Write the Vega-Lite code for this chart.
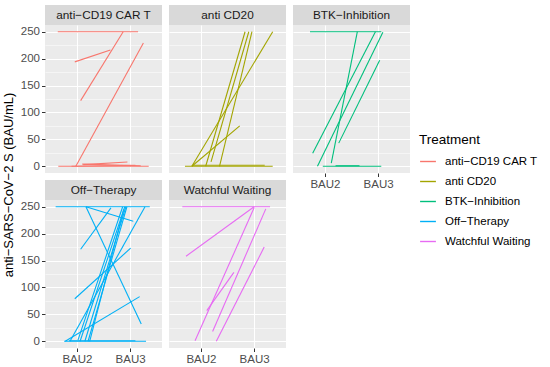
{
  "$schema": "https://vega.github.io/schema/vega-lite/v6.json",
  "padding": {"left": 3, "top": 5, "right": 5, "bottom": 5},
  "title": {"text": "anti−SARS−CoV−2 S (BAU/mL)", "orient": "left", "anchor": "middle", "fontSize": 13, "fontWeight": "normal", "color": "#000000", "font": "Liberation Sans", "offset": 4},
  "data": {"values": [
    {"Treatment": "anti−CD19 CAR T", "id": "c1", "x": 1.64, "y": 250}, {"Treatment": "anti−CD19 CAR T", "id": "c1", "x": 3.15, "y": 250},
    {"Treatment": "anti−CD19 CAR T", "id": "c2", "x": 1.96, "y": 194}, {"Treatment": "anti−CD19 CAR T", "id": "c2", "x": 2.63, "y": 216},
    {"Treatment": "anti−CD19 CAR T", "id": "c3", "x": 2.07, "y": 122}, {"Treatment": "anti−CD19 CAR T", "id": "c3", "x": 2.87, "y": 250},
    {"Treatment": "anti−CD19 CAR T", "id": "c4", "x": 1.98, "y": 0}, {"Treatment": "anti−CD19 CAR T", "id": "c4", "x": 3.25, "y": 229},
    {"Treatment": "anti−CD19 CAR T", "id": "c5", "x": 1.65, "y": 0}, {"Treatment": "anti−CD19 CAR T", "id": "c5", "x": 3.35, "y": 0},
    {"Treatment": "anti−CD19 CAR T", "id": "c6", "x": 2.12, "y": 3}, {"Treatment": "anti−CD19 CAR T", "id": "c6", "x": 2.95, "y": 8},
    {"Treatment": "anti−CD19 CAR T", "id": "c7", "x": 2.10, "y": 4}, {"Treatment": "anti−CD19 CAR T", "id": "c7", "x": 3.20, "y": 1},
    {"Treatment": "anti−CD19 CAR T", "id": "c8", "x": 1.90, "y": 0}, {"Treatment": "anti−CD19 CAR T", "id": "c8", "x": 3.10, "y": 2},
    {"Treatment": "anti CD20", "id": "d1", "x": 1.83, "y": 0}, {"Treatment": "anti CD20", "id": "d1", "x": 3.35, "y": 250},
    {"Treatment": "anti CD20", "id": "d2", "x": 1.83, "y": 0}, {"Treatment": "anti CD20", "id": "d2", "x": 2.73, "y": 75},
    {"Treatment": "anti CD20", "id": "d3", "x": 2.09, "y": 0}, {"Treatment": "anti CD20", "id": "d3", "x": 2.83, "y": 250},
    {"Treatment": "anti CD20", "id": "d4", "x": 2.19, "y": 8}, {"Treatment": "anti CD20", "id": "d4", "x": 2.90, "y": 250},
    {"Treatment": "anti CD20", "id": "d5", "x": 2.35, "y": 0}, {"Treatment": "anti CD20", "id": "d5", "x": 2.96, "y": 250},
    {"Treatment": "anti CD20", "id": "d6", "x": 1.70, "y": 0}, {"Treatment": "anti CD20", "id": "d6", "x": 3.35, "y": 0},
    {"Treatment": "anti CD20", "id": "d7", "x": 1.85, "y": 2}, {"Treatment": "anti CD20", "id": "d7", "x": 3.20, "y": 2},
    {"Treatment": "BTK−Inhibition", "id": "b1", "x": 1.72, "y": 250}, {"Treatment": "BTK−Inhibition", "id": "b1", "x": 3.06, "y": 250},
    {"Treatment": "BTK−Inhibition", "id": "b2", "x": 2.12, "y": 6}, {"Treatment": "BTK−Inhibition", "id": "b2", "x": 2.61, "y": 250},
    {"Treatment": "BTK−Inhibition", "id": "b3", "x": 1.77, "y": 24}, {"Treatment": "BTK−Inhibition", "id": "b3", "x": 2.95, "y": 250},
    {"Treatment": "BTK−Inhibition", "id": "b4", "x": 1.86, "y": 0}, {"Treatment": "BTK−Inhibition", "id": "b4", "x": 3.09, "y": 249},
    {"Treatment": "BTK−Inhibition", "id": "b5", "x": 2.26, "y": 43}, {"Treatment": "BTK−Inhibition", "id": "b5", "x": 3.03, "y": 197},
    {"Treatment": "BTK−Inhibition", "id": "b6", "x": 1.96, "y": 0}, {"Treatment": "BTK−Inhibition", "id": "b6", "x": 3.06, "y": 0},
    {"Treatment": "BTK−Inhibition", "id": "b7", "x": 2.20, "y": 1}, {"Treatment": "BTK−Inhibition", "id": "b7", "x": 2.65, "y": 1},
    {"Treatment": "Off−Therapy", "id": "o1", "x": 1.60, "y": 250}, {"Treatment": "Off−Therapy", "id": "o1", "x": 3.37, "y": 250},
    {"Treatment": "Off−Therapy", "id": "o2", "x": 2.17, "y": 250}, {"Treatment": "Off−Therapy", "id": "o2", "x": 3.06, "y": 223},
    {"Treatment": "Off−Therapy", "id": "o3", "x": 2.17, "y": 250}, {"Treatment": "Off−Therapy", "id": "o3", "x": 3.21, "y": 32},
    {"Treatment": "Off−Therapy", "id": "o4", "x": 2.07, "y": 171}, {"Treatment": "Off−Therapy", "id": "o4", "x": 2.64, "y": 248},
    {"Treatment": "Off−Therapy", "id": "o5", "x": 1.96, "y": 79}, {"Treatment": "Off−Therapy", "id": "o5", "x": 3.01, "y": 173},
    {"Treatment": "Off−Therapy", "id": "o6", "x": 1.78, "y": 0}, {"Treatment": "Off−Therapy", "id": "o6", "x": 3.18, "y": 83},
    {"Treatment": "Off−Therapy", "id": "o7", "x": 1.87, "y": 0}, {"Treatment": "Off−Therapy", "id": "o7", "x": 3.28, "y": 250},
    {"Treatment": "Off−Therapy", "id": "o8", "x": 2.02, "y": 2}, {"Treatment": "Off−Therapy", "id": "o8", "x": 2.86, "y": 250},
    {"Treatment": "Off−Therapy", "id": "o9", "x": 2.06, "y": 0}, {"Treatment": "Off−Therapy", "id": "o9", "x": 2.90, "y": 250},
    {"Treatment": "Off−Therapy", "id": "o10", "x": 2.15, "y": 0}, {"Treatment": "Off−Therapy", "id": "o10", "x": 2.92, "y": 250},
    {"Treatment": "Off−Therapy", "id": "o11", "x": 2.21, "y": 0}, {"Treatment": "Off−Therapy", "id": "o11", "x": 2.94, "y": 250},
    {"Treatment": "Off−Therapy", "id": "o12", "x": 2.24, "y": 0}, {"Treatment": "Off−Therapy", "id": "o12", "x": 2.88, "y": 245},
    {"Treatment": "Off−Therapy", "id": "o13", "x": 1.76, "y": 0}, {"Treatment": "Off−Therapy", "id": "o13", "x": 3.30, "y": 0},
    {"Treatment": "Off−Therapy", "id": "o14", "x": 1.85, "y": 1}, {"Treatment": "Off−Therapy", "id": "o14", "x": 3.10, "y": 1},
    {"Treatment": "Watchful Waiting", "id": "w1", "x": 1.65, "y": 250}, {"Treatment": "Watchful Waiting", "id": "w1", "x": 3.30, "y": 250},
    {"Treatment": "Watchful Waiting", "id": "w2", "x": 1.72, "y": 158}, {"Treatment": "Watchful Waiting", "id": "w2", "x": 3.00, "y": 250},
    {"Treatment": "Watchful Waiting", "id": "w3", "x": 1.89, "y": 1}, {"Treatment": "Watchful Waiting", "id": "w3", "x": 3.00, "y": 248},
    {"Treatment": "Watchful Waiting", "id": "w4", "x": 2.11, "y": 57}, {"Treatment": "Watchful Waiting", "id": "w4", "x": 2.62, "y": 128},
    {"Treatment": "Watchful Waiting", "id": "w5", "x": 2.22, "y": 18}, {"Treatment": "Watchful Waiting", "id": "w5", "x": 3.22, "y": 246},
    {"Treatment": "Watchful Waiting", "id": "w6", "x": 2.29, "y": 0}, {"Treatment": "Watchful Waiting", "id": "w6", "x": 3.19, "y": 175}
  ]},
  "spacing": 7,
  "hconcat": [
    {"spacing": 7, "vconcat": [
      {"spacing": 0, "vconcat": [
        {"transform": [{"filter": "datum.Treatment === 'anti−CD19 CAR T'"}, {"aggregate": [{"op": "count", "as": "n"}], "groupby": ["Treatment"]}],
         "width": 117, "height": 20, "view": {"fill": "#D9D9D9", "stroke": null},
         "mark": {"type": "text", "fontSize": 11.8, "color": "#1A1A1A", "font": "Liberation Sans"},
         "encoding": {"text": {"field": "Treatment"}}},
        {"transform": [{"filter": "datum.Treatment === 'anti−CD19 CAR T'"}], "width": 117, "height": 148,
         "mark": {"type": "line", "strokeWidth": 1.1},
         "encoding": {
           "x": {"field": "x", "type": "quantitative", "scale": {"domain": [1.4, 3.6], "nice": false, "zero": false}, "axis": {"values": [2, 3], "labels": false, "ticks": false, "title": null, "gridWidth": 1.1}},
           "y": {"field": "y", "type": "quantitative", "scale": {"domain": [-12.5, 262.5], "nice": false}, "axis": {"values": [0, 25, 50, 75, 100, 125, 150, 175, 200, 225, 250], "title": null, "labelExpr": "datum.value % 50 === 0 ? datum.label : ''", "gridWidth": {"condition": {"test": "datum.value % 50 === 0", "value": 1.1}, "value": 0.5}, "tickOpacity": {"condition": {"test": "datum.value % 50 === 0", "value": 1}, "value": 0}}},
           "detail": {"field": "id"},
           "color": {"field": "Treatment", "type": "nominal", "title": "Treatment", "scale": {"domain": ["anti−CD19 CAR T", "anti CD20", "BTK−Inhibition", "Off−Therapy", "Watchful Waiting"], "range": ["#F8766D", "#A3A500", "#00BF7D", "#00B0F6", "#E76BF3"]}}
         }}
      ]},
      {"spacing": 0, "vconcat": [
        {"transform": [{"filter": "datum.Treatment === 'Off−Therapy'"}, {"aggregate": [{"op": "count", "as": "n"}], "groupby": ["Treatment"]}],
         "width": 117, "height": 20, "view": {"fill": "#D9D9D9", "stroke": null},
         "mark": {"type": "text", "fontSize": 11.8, "color": "#1A1A1A", "font": "Liberation Sans"},
         "encoding": {"text": {"field": "Treatment"}}},
        {"transform": [{"filter": "datum.Treatment === 'Off−Therapy'"}], "width": 117, "height": 148,
         "mark": {"type": "line", "strokeWidth": 1.1},
         "encoding": {
           "x": {"field": "x", "type": "quantitative", "scale": {"domain": [1.4, 3.6], "nice": false, "zero": false}, "axis": {"values": [2, 3], "title": null, "labelExpr": "'BAU' + datum.value", "gridWidth": 1.1}},
           "y": {"field": "y", "type": "quantitative", "scale": {"domain": [-12.5, 262.5], "nice": false}, "axis": {"values": [0, 25, 50, 75, 100, 125, 150, 175, 200, 225, 250], "title": null, "labelExpr": "datum.value % 50 === 0 ? datum.label : ''", "gridWidth": {"condition": {"test": "datum.value % 50 === 0", "value": 1.1}, "value": 0.5}, "tickOpacity": {"condition": {"test": "datum.value % 50 === 0", "value": 1}, "value": 0}}},
           "detail": {"field": "id"},
           "color": {"field": "Treatment", "type": "nominal", "title": "Treatment", "scale": {"domain": ["anti−CD19 CAR T", "anti CD20", "BTK−Inhibition", "Off−Therapy", "Watchful Waiting"], "range": ["#F8766D", "#A3A500", "#00BF7D", "#00B0F6", "#E76BF3"]}}
         }}
      ]}
    ]},
    {"spacing": 7, "vconcat": [
      {"spacing": 0, "vconcat": [
        {"transform": [{"filter": "datum.Treatment === 'anti CD20'"}, {"aggregate": [{"op": "count", "as": "n"}], "groupby": ["Treatment"]}],
         "width": 117, "height": 20, "view": {"fill": "#D9D9D9", "stroke": null},
         "mark": {"type": "text", "fontSize": 11.8, "color": "#1A1A1A", "font": "Liberation Sans"},
         "encoding": {"text": {"field": "Treatment"}}},
        {"transform": [{"filter": "datum.Treatment === 'anti CD20'"}], "width": 117, "height": 148,
         "mark": {"type": "line", "strokeWidth": 1.1},
         "encoding": {
           "x": {"field": "x", "type": "quantitative", "scale": {"domain": [1.4, 3.6], "nice": false, "zero": false}, "axis": {"values": [2, 3], "labels": false, "ticks": false, "title": null, "gridWidth": 1.1}},
           "y": {"field": "y", "type": "quantitative", "scale": {"domain": [-12.5, 262.5], "nice": false}, "axis": {"values": [0, 25, 50, 75, 100, 125, 150, 175, 200, 225, 250], "title": null, "labels": false, "ticks": false, "gridWidth": {"condition": {"test": "datum.value % 50 === 0", "value": 1.1}, "value": 0.5}}},
           "detail": {"field": "id"},
           "color": {"field": "Treatment", "type": "nominal", "title": "Treatment", "scale": {"domain": ["anti−CD19 CAR T", "anti CD20", "BTK−Inhibition", "Off−Therapy", "Watchful Waiting"], "range": ["#F8766D", "#A3A500", "#00BF7D", "#00B0F6", "#E76BF3"]}}
         }}
      ]},
      {"spacing": 0, "vconcat": [
        {"transform": [{"filter": "datum.Treatment === 'Watchful Waiting'"}, {"aggregate": [{"op": "count", "as": "n"}], "groupby": ["Treatment"]}],
         "width": 117, "height": 20, "view": {"fill": "#D9D9D9", "stroke": null},
         "mark": {"type": "text", "fontSize": 11.8, "color": "#1A1A1A", "font": "Liberation Sans"},
         "encoding": {"text": {"field": "Treatment"}}},
        {"transform": [{"filter": "datum.Treatment === 'Watchful Waiting'"}], "width": 117, "height": 148,
         "mark": {"type": "line", "strokeWidth": 1.1},
         "encoding": {
           "x": {"field": "x", "type": "quantitative", "scale": {"domain": [1.4, 3.6], "nice": false, "zero": false}, "axis": {"values": [2, 3], "title": null, "labelExpr": "'BAU' + datum.value", "gridWidth": 1.1}},
           "y": {"field": "y", "type": "quantitative", "scale": {"domain": [-12.5, 262.5], "nice": false}, "axis": {"values": [0, 25, 50, 75, 100, 125, 150, 175, 200, 225, 250], "title": null, "labels": false, "ticks": false, "gridWidth": {"condition": {"test": "datum.value % 50 === 0", "value": 1.1}, "value": 0.5}}},
           "detail": {"field": "id"},
           "color": {"field": "Treatment", "type": "nominal", "title": "Treatment", "scale": {"domain": ["anti−CD19 CAR T", "anti CD20", "BTK−Inhibition", "Off−Therapy", "Watchful Waiting"], "range": ["#F8766D", "#A3A500", "#00BF7D", "#00B0F6", "#E76BF3"]}}
         }}
      ]}
    ]},
    {"spacing": 0, "vconcat": [
      {"transform": [{"filter": "datum.Treatment === 'BTK−Inhibition'"}, {"aggregate": [{"op": "count", "as": "n"}], "groupby": ["Treatment"]}],
       "width": 117, "height": 20, "view": {"fill": "#D9D9D9", "stroke": null},
       "mark": {"type": "text", "fontSize": 11.8, "color": "#1A1A1A", "font": "Liberation Sans"},
       "encoding": {"text": {"field": "Treatment"}}},
      {"transform": [{"filter": "datum.Treatment === 'BTK−Inhibition'"}], "width": 117, "height": 148,
       "mark": {"type": "line", "strokeWidth": 1.1},
       "encoding": {
         "x": {"field": "x", "type": "quantitative", "scale": {"domain": [1.4, 3.6], "nice": false, "zero": false}, "axis": {"values": [2, 3], "title": null, "labelExpr": "'BAU' + datum.value", "gridWidth": 1.1}},
         "y": {"field": "y", "type": "quantitative", "scale": {"domain": [-12.5, 262.5], "nice": false}, "axis": {"values": [0, 25, 50, 75, 100, 125, 150, 175, 200, 225, 250], "title": null, "labels": false, "ticks": false, "gridWidth": {"condition": {"test": "datum.value % 50 === 0", "value": 1.1}, "value": 0.5}}},
         "detail": {"field": "id"},
         "color": {"field": "Treatment", "type": "nominal", "title": "Treatment", "scale": {"domain": ["anti−CD19 CAR T", "anti CD20", "BTK−Inhibition", "Off−Therapy", "Watchful Waiting"], "range": ["#F8766D", "#A3A500", "#00BF7D", "#00B0F6", "#E76BF3"]}}
       }}
    ]}
  ],
  "config": {
    "font": "Liberation Sans",
    "view": {"fill": "#EBEBEB", "stroke": null},
    "axis": {"gridColor": "#FFFFFF", "gridOpacity": 1, "domain": false, "labelColor": "#4D4D4D", "labelFont": "Liberation Sans", "labelFontSize": 11.5, "tickColor": "#333333", "tickSize": 3.5, "tickWidth": 1, "labelPadding": 2},
    "legend": {"orient": "none", "legendX": 374, "legendY": 128, "titleFontSize": 13.5, "titleFontWeight": "normal", "titleColor": "#000000", "titleFont": "Liberation Sans", "titlePadding": 6, "labelFontSize": 11.5, "labelColor": "#000000", "labelFont": "Liberation Sans", "symbolType": "stroke", "symbolSize": 250, "symbolStrokeWidth": 1.4, "rowPadding": 5, "labelOffset": 8}
  }
}
